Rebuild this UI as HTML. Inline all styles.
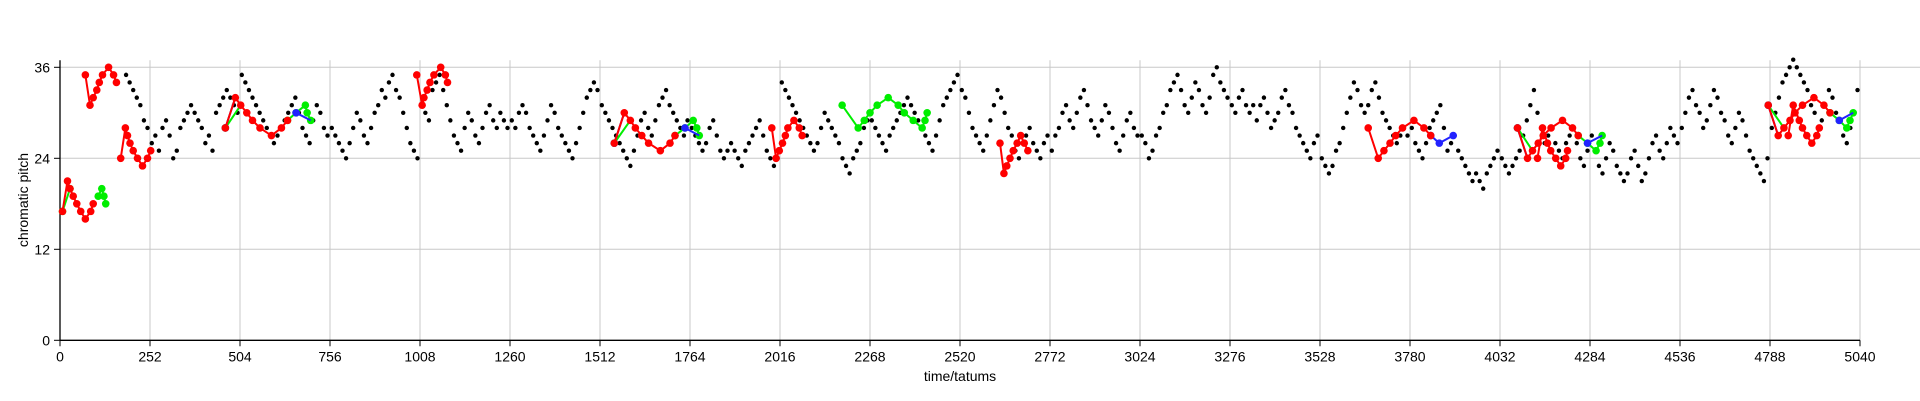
<!DOCTYPE html>
<html><head><meta charset="utf-8"><style>
html,body{margin:0;padding:0;background:#fff;width:1920px;height:401px;overflow:hidden}
svg{display:block;font-family:"Liberation Sans",sans-serif}
</style></head><body>
<svg id="chart" width="1920" height="401" viewBox="0 0 1920 401" xmlns="http://www.w3.org/2000/svg">
<g id="grid"></g>
<g id="axes"></g>
<g id="black"></g>
<g id="segs"></g>
<text x="960" y="381" text-anchor="middle" font-size="14">time/tatums</text>
<text transform="translate(28,200) rotate(-90)" text-anchor="middle" font-size="14">chromatic pitch</text>
</svg>
<script>
const xTicks = [0,252,504,756,1008,1260,1512,1764,2016,2268,2520,2772,3024,3276,3528,3780,4032,4284,4536,4788,5040];
const yTicks = [0,12,24,36];
const blackBlocks = [
[null,null,null,null,null,null,null,null,null,null,null,null,null,null,null,null,null,null,35,34,33,32,31,29,28],
[26,27,25,28,29,27,24,25,28,29,30,31,30,29,28,26,27,25,30,31,32,33,32,31,30],
[35,34,33,32,31,30,29,28,27,26,27,28,29,30,31,32,30,28,27,26,29,31,30,28,27],
[28,27,26,25,24,26,28,30,29,27,26,28,30,31,33,32,34,35,33,32,30,28,26,25,24],
[31,30,29,33,34,35,33,31,29,27,26,25,28,30,29,27,26,28,30,31,29,28,30,29,28],
[29,28,30,31,30,28,27,26,25,27,29,31,30,28,27,26,25,24,26,28,30,32,33,34,33],
[31,30,29,28,27,26,25,24,23,25,27,29,30,28,27,29,31,32,33,31,30,29,28,27,29],
[28,27,26,25,26,28,29,27,25,24,25,26,25,24,23,25,26,27,28,29,27,25,24,23,24],
[34,33,32,31,30,29,28,27,26,25,26,28,30,29,28,27,26,24,23,22,24,25,26,28,29],
[29,28,27,26,25,27,28,29,30,31,32,31,30,29,28,27,26,25,27,29,31,32,33,34,35],
[33,32,30,28,27,26,25,27,29,31,33,32,30,28,27,25,24,26,27,28,26,25,24,26,27],
[25,27,28,30,31,29,28,30,32,33,31,29,28,27,29,31,30,28,26,25,27,29,30,28,27],
[27,26,24,25,27,28,30,31,33,34,35,33,31,30,32,34,33,31,30,32,35,36,34,33,32],
[31,30,32,33,31,30,31,29,31,32,30,28,29,30,32,33,31,30,28,27,26,25,24,26,27],
[24,23,22,23,25,26,28,30,32,34,33,31,30,31,33,34,32,30,29,28,27,26,27,28,27],
[28,26,25,24,26,28,29,30,31,28,25,26,27,25,24,23,22,21,22,21,20,22,23,24,25],
[24,23,22,23,24,25,27,29,31,33,30,28,26,27,28,26,25,24,26,27,28,26,24,23,25],
[27,25,23,22,24,26,25,23,22,21,22,24,25,23,21,22,24,26,27,25,24,26,28,27,26],
[28,30,32,33,31,30,28,29,31,33,32,30,29,27,26,28,30,29,27,25,24,23,22,21,24],
[28,30,32,34,35,36,37,36,35,34,33,31,30,28,29,31,33,32,30,29,27,26,28,30,33]
];
const segColors = ["#00ee00","#00ee00","red","red","red","#00ee00","#2222ff","#00ee00","#2222ff","red","red",
"#00ee00","#2222ff","red","#00ee00","#2222ff","red","#00ee00","red","red","#2222ff",
"#00ee00","#2222ff","red","red","#00ee00","#2222ff","#00ee00","#2222ff","red","red","#00ee00","#2222ff"];
const segTimes = [
[7,28],[107,117,123,128],[7,21,28,37,47,58,71,86,93],[71,84,93,103,110,119,136,150,158],
[170,183,189,196,205,217,231,245,254],[463,506],[463,491],[637,661,687,692,702],[661,702],
[463,491,506,523,539,560,592,620,637],[999,1014,1019,1028,1036,1047,1066,1079,1085],
[1552,1597],[1552,1580],[1552,1580,1597,1611,1629,1648,1681,1708,1722],[1722,1750,1773,1783,1790],[1750,1790],
[1993,2005,2014,2023,2031,2038,2055,2070,2078],[2190,2235,2252,2268,2288,2319,2347,2364,2389,2414,2422,2428],
[2632,2643,2651,2660,2669,2680,2690,2700,2710],[3663,3691,3707,3724,3740,3759,3791,3819,3838],[3838,3862,3901],
[4081,4123],[4081,4109],[4081,4109,4123,4139,4153,4175,4207,4235,4251],[4137,4151,4165,4174,4188,4202,4216,4221],
[4251,4277,4301,4312,4318],[4277,4318],[4783,4827],[4783,4811],[4783,4811,4827,4844,4858,4879,4911,4939,4956],
[4839,4853,4870,4879,4891,4905,4919,4926],[4956,4982,5003,5012,5021],[4982,5021]
];
const segPitches = [
[17,20],[19,20,19,18],[17,21,20,19,18,17,16,17,18],[35,31,32,33,34,35,36,35,34],
[24,28,27,26,25,24,23,24,25],[28,31],[28,32],[29,30,31,30,29],[30,29],
[28,32,31,30,29,28,27,28,29],[35,31,32,33,34,35,36,35,34],
[26,29],[26,30],[26,30,29,28,27,26,25,26,27],[27,28,29,28,27],[28,27],
[28,24,25,26,27,28,29,28,27],[31,28,29,30,31,32,31,30,29,28,29,30],
[26,22,23,24,25,26,27,26,25],[28,24,25,26,27,28,29,28,27],[27,26,27],
[28,25],[28,24],[28,24,25,26,27,28,29,28,27],[24,28,26,25,24,23,24,25],
[27,26,25,26,27],[26,27],[31,28],[31,27],[31,27,28,29,30,31,32,31,30],
[27,31,29,28,27,26,27,28],[30,29,28,29,30],[29,30]
];
const NS="http://www.w3.org/2000/svg";
const X0=60,X1=1860,Y0=340.3,Y36=67.3;
const xs=t=>X0+t*(X1-X0)/5040, ys=p=>Y0-p*(Y0-Y36)/36;
function mk(tag,attrs,parent){const e=document.createElementNS(NS,tag);for(const k in attrs)e.setAttribute(k,attrs[k]);parent.appendChild(e);return e;}
const grid=document.getElementById('grid'),axes=document.getElementById('axes');
xTicks.forEach(t=>{
  if(t>0){const l=mk('line',{x1:xs(t),x2:xs(t),y1:Y36-7,y2:Y0,stroke:'#c8c8c8','stroke-width':1},grid);
  
  }
  const tk=mk('line',{x1:xs(t),x2:xs(t),y1:Y0,y2:Y0+6,stroke:'#000'},axes);
  
  
  const tx=mk('text',{x:xs(t),y:Y0+21,'text-anchor':'middle','font-size':14},axes);tx.textContent=t;
  
  
});
yTicks.forEach(p=>{
  if(p>0){const l=mk('line',{x1:X0,x2:1920,y1:ys(p),y2:ys(p),stroke:'#c8c8c8','stroke-width':1},grid);
  
  }
  const tk=mk('line',{x1:X0-6,x2:X0,y1:ys(p),y2:ys(p),stroke:'#000'},axes);
  
  
  const tx=mk('text',{x:X0-10,y:ys(p)+5,'text-anchor':'end','font-size':14},axes);tx.textContent=p;
  
  
});
const ya=mk('line',{x1:X0,x2:X0,y1:Y36-7,y2:Y0,stroke:'#000','stroke-width':1.3},axes);


const xa=mk('line',{x1:X0,x2:X1,y1:Y0,y2:Y0,stroke:'#000','stroke-width':1.3},axes);


const bg=document.getElementById('black');
blackBlocks.forEach((blk,b)=>blk.forEach((p,i)=>{
  if(p===null)return;
  const c=mk('circle',{cx:xs(b*252+5+i*10),cy:ys(p),r:2.2,fill:'#000'},bg);
  
  
}));
const sg=document.getElementById('segs');
const order=[];
segColors.forEach((c,i)=>{if(c!=='red')order.push(i);});
segColors.forEach((c,i)=>{if(c==='red')order.push(i);});
order.forEach(i=>{
  const g=mk('g',{},sg);
  
  
  const pts=segTimes[i].map((t,j)=>xs(t)+','+ys(segPitches[i][j])).join(' ');
  const pl=mk('polyline',{points:pts,fill:'none',stroke:segColors[i],'stroke-width':2},g);
  
  
  segTimes[i].forEach((t,j)=>{
    if(segTimes[i].length===2 && segColors[i]!=='red' && j===1 && i!==0)return;
    const c=mk('circle',{cx:xs(t),cy:ys(segPitches[i][j]),r:3.8,fill:segColors[i]},g);
    
    
  });
});
</script>
</body></html>
